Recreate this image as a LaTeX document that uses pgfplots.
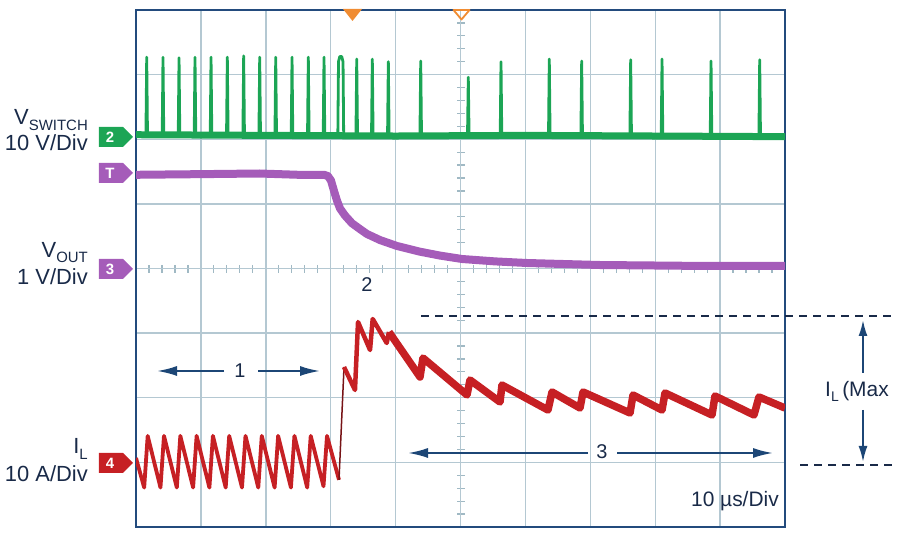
\documentclass[border=0pt]{standalone}
\usepackage{pgfplots}
\pgfplotsset{compat=1.18}
\usepackage{fontspec}
\setmainfont{Liberation Sans}
\usetikzlibrary{arrows.meta}
\definecolor{gridc}{RGB}{180,200,210}
\definecolor{tickc}{RGB}{160,185,196}
\definecolor{frameb}{RGB}{35,75,125}
\definecolor{trgreen}{RGB}{28,165,85}
\definecolor{trpurple}{RGB}{165,92,185}
\definecolor{trred}{RGB}{198,32,36}
\definecolor{navy}{RGB}{25,42,72}
\definecolor{arrowb}{RGB}{28,70,118}
\definecolor{orangem}{RGB}{240,140,50}
\newcommand{\fs}[1]{\fontsize{#1}{#1}\selectfont}
\begin{document}
\begin{tikzpicture}
\begin{scope}[x=1bp,y=-1bp,shift={(-136bp,527bp)}]
 \path[use as bounding box] (0,0) rectangle (900,536);
 \foreach \i in {1,...,49} {\draw[tickc, line width=1.2bp] ({136+\i*12.98},265) -- ({136+\i*12.98},273);}
 \foreach \j in {1,...,39} {\draw[tickc, line width=1.2bp] (457,{10+\j*12.925}) -- (465,{10+\j*12.925});}
\end{scope}
\begin{axis}[at={(0,0)}, anchor=south west, scale only axis,
  width=649bp, height=517bp, xmin=0, xmax=10, ymin=0, ymax=8,
  xtick={1,...,9}, ytick={1,...,7}, xticklabels={}, yticklabels={},
  major tick length=0pt, grid=major,
  major grid style={draw=gridc, line width=1.4bp},
  axis line style={draw=frameb, line width=2.4bp}]
% green V_SWITCH
\addplot[trgreen, line width=7bp] coordinates {(0,6.07)(2,6.06)(4,6.05)(6,6.06)(8,6.05)(10,6.04)};
\addplot[trgreen, line width=2.8bp, line join=round] coordinates {
(0,6.07)
(0.153,6.07)(0.165,7.27)(0.177,6.07)
(0.404,6.07)(0.416,7.27)(0.428,6.07)
(0.651,6.07)(0.663,7.26)(0.675,6.07)
(0.897,6.07)(0.909,7.27)(0.921,6.07)
(1.144,6.07)(1.156,7.27)(1.168,6.07)
(1.395,6.07)(1.407,7.27)(1.419,6.07)
(1.647,6.07)(1.659,7.29)(1.671,6.07)
(1.894,6.07)(1.906,7.27)(1.918,6.07)
(2.141,6.07)(2.153,7.27)(2.165,6.07)
(2.392,6.07)(2.404,7.27)(2.416,6.07)
(2.643,6.07)(2.655,7.27)(2.667,6.07)
(2.885,6.07)(2.897,7.27)(2.909,6.07)
(3.11,6.07)(3.12,7.2)(3.14,7.28)(3.17,7.28)(3.19,7.2)(3.20,6.07)
(3.389,6.07)(3.401,7.24)(3.413,6.07)
(3.629,6.07)(3.641,7.24)(3.653,6.07)
(3.876,6.07)(3.888,7.20)(3.900,6.07)
(4.375,6.07)(4.387,7.21)(4.399,6.07)
(5.108,6.07)(5.120,6.96)(5.132,6.07)
(5.612,6.07)(5.624,7.20)(5.636,6.07)
(6.356,6.07)(6.368,7.24)(6.380,6.07)
(6.855,6.07)(6.867,7.21)(6.879,6.07)
(7.610,6.07)(7.622,7.23)(7.634,6.07)
(8.093,6.07)(8.105,7.24)(8.117,6.07)
(8.848,6.07)(8.860,7.21)(8.872,6.07)
(9.598,6.07)(9.610,7.23)(9.622,6.07)
(10,6.07)};
% purple V_OUT
\addplot[trpurple, line width=8bp, line join=round] coordinates {
(0,5.45)(1.0,5.46)(1.9,5.47)(2.5,5.45)(2.90,5.45)(2.958,5.43)(3.005,5.36)(3.051,5.20)(3.097,5.05)(3.143,4.93)(3.220,4.82)(3.328,4.70)(3.451,4.61)(3.559,4.534)(3.760,4.44)(4.022,4.348)(4.376,4.26)(4.684,4.20)(5.023,4.147)(5.532,4.11)(6.025,4.085)(7.150,4.054)(8.690,4.04)(10,4.04)};
% red I_L
\addplot[trred, line width=3.8bp, line join=round] coordinates {
(0,1.068)
(0.126,0.61)(0.180,1.41)
(0.377,0.61)(0.431,1.41)
(0.629,0.61)(0.683,1.41)
(0.880,0.61)(0.934,1.41)
(1.131,0.61)(1.185,1.41)
(1.382,0.61)(1.436,1.41)
(1.633,0.61)(1.687,1.41)
(1.884,0.61)(1.938,1.41)
(2.136,0.61)(2.190,1.41)
(2.387,0.61)(2.441,1.41)
(2.638,0.61)(2.692,1.41)
(2.889,0.63)(2.943,1.41)
(3.128,0.73)};
\addplot[trred!60!black, line width=1.5bp] coordinates {(3.128,0.73)(3.205,2.476)};
\addplot[trred, line width=4.5bp, line join=round] coordinates {
(3.205,2.476)(3.374,2.12)(3.421,3.172)(3.606,2.739)(3.647,3.219)(3.863,2.847)(3.898,3.017)};
\addplot[trred, line width=7.5bp, line join=round] coordinates {
(3.898,3.017)(4.376,2.321)(4.422,2.615)(5.100,2.043)(5.146,2.275)(5.609,1.934)(5.639,2.197)(6.348,1.810)(6.410,2.089)(6.841,1.841)(6.888,2.089)(7.612,1.764)(7.658,2.043)(8.105,1.810)(8.151,2.074)(8.875,1.733)(8.921,2.027)(9.522,1.733)(9.599,2.012)(10,1.841)};
\end{axis}
\begin{scope}[x=1bp,y=-1bp,shift={(-136bp,527bp)}]
 % top markers
 \fill[orangem] (343,9) -- (362,9) -- (352.5,21) -- cycle;
 \draw[orangem, line width=1.8bp, line join=round] (453.5,10) -- (469.5,10) -- (461.5,19.5) -- cycle;
 % channel tags
 \fill[trgreen] (99,127) -- (123,127) -- (133,137) -- (123,147) -- (99,147) -- cycle;
 \node[white, font=\fs{15}\bfseries] at (110,137) {2};
 \fill[trpurple] (99,163) -- (123,163) -- (133,173) -- (123,183) -- (99,183) -- cycle;
 \node[white, font=\fs{15}\bfseries] at (110,173) {T};
 \fill[trpurple] (99,259) -- (123,259) -- (133,269) -- (123,279) -- (99,279) -- cycle;
 \node[white, font=\fs{15}\bfseries] at (110,269) {3};
 \fill[trred] (99,453) -- (123,453) -- (133,463) -- (123,473) -- (99,473) -- cycle;
 \node[white, font=\fs{15}\bfseries] at (110,463) {4};
 % channel labels
 \node[navy, anchor=base east, inner sep=0pt, font=\fs{22}] at (88,125) {V\raisebox{-6bp}{\fs{15}SWITCH}};
 \node[navy, anchor=base east, inner sep=0pt, font=\fs{22}] at (88,151) {10 V/Div};
 \node[navy, anchor=base east, inner sep=0pt, font=\fs{22}] at (88,258) {V\raisebox{-5bp}{\fs{15}OUT}};
 \node[navy, anchor=base east, inner sep=0pt, font=\fs{22}] at (88,285) {1 V/Div};
 \node[navy, anchor=base east, inner sep=0pt, font=\fs{22}] at (88,454) {I\raisebox{-6bp}{\fs{15}L}};
 \node[navy, anchor=base east, inner sep=0pt, font=\fs{22}] at (88,482) {10 A/Div};
 % annotation 1
 \draw[arrowb, line width=2bp, -{Latex[length=20bp,width=10bp]}] (224,371) -- (157,371);
 \draw[arrowb, line width=2bp, -{Latex[length=20bp,width=10bp]}] (258,371) -- (320,371);
 \node[navy, font=\fs{20}] at (240,371) {1};
 % annotation 2
 \node[navy, font=\fs{20}] at (367,285) {2};
 % annotation 3
 \draw[arrowb, line width=2bp, -{Latex[length=20bp,width=10bp]}] (588,453) -- (408,453);
 \draw[arrowb, line width=2bp, -{Latex[length=20bp,width=10bp]}] (617,453) -- (773,453);
 \node[navy, font=\fs{20}] at (602,452) {3};
 % I_L max
 \draw[navy, line width=2bp, dash pattern=on 8bp off 6bp] (421,316) -- (892,316);
 \draw[navy, line width=2bp, dash pattern=on 8bp off 6bp] (800,465) -- (892,465);
 \draw[arrowb, line width=2bp, -{Latex[length=16bp,width=9bp]}] (863,373) -- (863,320);
 \draw[arrowb, line width=2bp, -{Latex[length=16bp,width=9bp]}] (863,410) -- (863,462);
 \node[navy, anchor=base west, inner sep=0pt, font=\fs{21}] at (825,397) {I\raisebox{-5bp}{\fs{14}L}\,(Max};
 \node[navy, anchor=base east, inner sep=0pt, font=\fs{21}] at (779,507) {10 µs/Div};
\end{scope}
\end{tikzpicture}
\end{document}
